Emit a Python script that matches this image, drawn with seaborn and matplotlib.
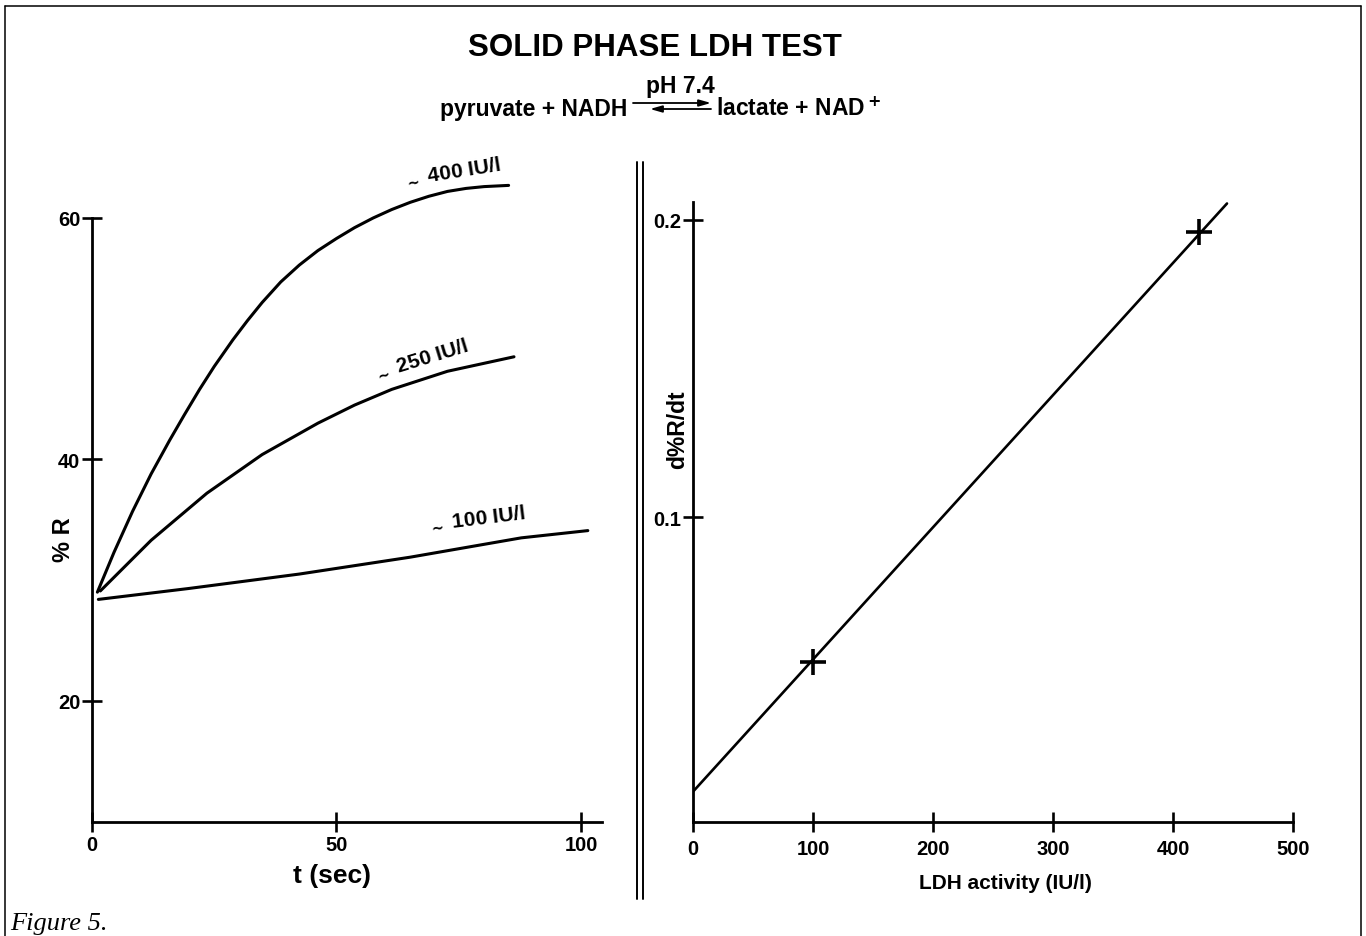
import numpy as np
import pandas as pd
import matplotlib
matplotlib.use("Agg")
import matplotlib.pyplot as plt
from matplotlib.lines import Line2D
from matplotlib.patches import FancyArrowPatch
import seaborn as sns

# ---------------- data ----------------
t_400 = [1.1, 4.5, 8.3, 12.1, 15.9, 18.9, 22.0, 25.0, 28.8, 31.8, 34.8, 38.6, 42.4, 46.2,
         50.0, 53.7, 57.5, 61.3, 65.1, 68.9, 72.7, 76.5, 80.2, 85.2]
r_400 = [29.0, 32.3, 35.7, 38.8, 41.6, 43.7, 45.8, 47.7, 49.9, 51.5, 53.0, 54.7, 56.1, 57.3,
         58.3, 59.2, 60.0, 60.7, 61.3, 61.8, 62.2, 62.45, 62.6, 62.7]
t_250 = [1.7, 12.1, 23.5, 34.8, 46.2, 53.7, 61.3, 72.7, 86.3]
r_250 = [29.1, 33.3, 37.2, 40.4, 43.0, 44.5, 45.8, 47.3, 48.5]
t_100 = [1.3, 19.7, 42.4, 65.1, 87.8, 101.4]
r_100 = [28.4, 29.3, 30.5, 31.9, 33.5, 34.1]
curve_labels = ["400 IU/l", "250 IU/l", "100 IU/l"]

activity = [100, 422]
rate = [0.0515, 0.196]
fit_x = [0, 445]
fit_y = [0.0078, 0.2055]

left_xticks = [0, 50, 100]
left_yticks = [20, 40, 60]
right_xticks = [0, 100, 200, 300, 400, 500]
right_yticks = [0.1, 0.2]
right_yticklabels = ["0.1", "0.2"]

# ---------------- style ----------------
sns.set_theme(style="white")
plt.rcParams['font.family'] = ['Liberation Sans', 'DejaVu Sans']
plt.rcParams['font.weight'] = 'bold'
plt.rcParams['text.color'] = 'black'
plt.rcParams['axes.labelcolor'] = 'black'
plt.rcParams['xtick.color'] = 'black'
plt.rcParams['ytick.color'] = 'black'
plt.rcParams['mathtext.default'] = 'bf'
plt.rcParams['lines.solid_capstyle'] = 'round'
plt.rcParams['lines.solid_joinstyle'] = 'round'

W, H = 1366, 937
fig = plt.figure(figsize=(W / 100, H / 100), dpi=100)
fig.patch.set_facecolor('white')


def fx(px):
    return px / W


def fy(py):
    return 1 - py / H


# ---------------- left panel ----------------
ax1 = fig.add_axes([fx(92), fy(822.5), (602 - 92) / W, (822.5 - 170.7) / H])
df = pd.DataFrame({
    't': t_400 + t_250 + t_100,
    'R': r_400 + r_250 + r_100,
    'level': [curve_labels[0]] * len(t_400) + [curve_labels[1]] * len(t_250) + [curve_labels[2]] * len(t_100),
})
sns.lineplot(data=df, x='t', y='R', hue='level', palette=['black'] * 3, legend=False,
             sort=False, estimator=None, lw=2.2, ax=ax1)
ax1.set_xlim(0, 104.3)
ax1.set_ylim(10, 64)
ax1.set_xticks(left_xticks)
ax1.set_yticks(left_yticks)
ax1.set_xticklabels([str(v) for v in left_xticks])
ax1.set_yticklabels([str(v) for v in left_yticks])
ax1.spines['left'].set_bounds(10, 60)

# ---------------- right panel ----------------
ax2 = fig.add_axes([fx(693), fy(822.7), (1293 - 693) / W, (822.7 - 203) / H])
sns.lineplot(x=fit_x, y=fit_y, color='black', lw=1.9, ax=ax2)
sns.scatterplot(x=activity, y=rate, marker='+', s=330, color='black', linewidth=2.6, ax=ax2, zorder=5)
ax2.set_xlim(0, 500)
ax2.set_ylim(-0.0023, 0.206)
ax2.set_xticks(right_xticks)
ax2.set_yticks(right_yticks)
ax2.set_yticklabels(right_yticklabels)

for ax in (ax1, ax2):
    ax.set_facecolor('white')
    ax.grid(False)
    for s in ('top', 'right'):
        ax.spines[s].set_visible(False)
    for s in ('left', 'bottom'):
        ax.spines[s].set_color('black')
        ax.spines[s].set_linewidth(2.0)
    ax.tick_params(bottom=True, left=True, direction='inout', length=15, width=1.9,
                   color='black', labelsize=14.5, labelcolor='black')
    for lab in ax.get_xticklabels() + ax.get_yticklabels():
        lab.set_fontweight('bold')
    ax.set_xlabel('')
    ax.set_ylabel('')
    ax.patch.set_alpha(0)

ax1.tick_params(axis='x', pad=2)
ax1.tick_params(axis='y', pad=1)
ax2.tick_params(axis='x', pad=5)
ax2.tick_params(axis='y', pad=1)

# curve labels (small, lowered tilde before each)
label_pos = [(73.5, 64.0, 9), (67.0, 48.5, 17), (78.5, 35.3, 7)]
for lab, (tx, ry, rot) in zip(curve_labels, label_pos):
    ax1.text(tx, ry, r'$_{\sim}$ ' + lab, fontsize=15, fontweight='bold', rotation=rot,
             ha='center', va='center', rotation_mode='anchor', clip_on=False)

# axis labels
fig.text(fx(332), fy(876), 't (sec)', fontsize=19, fontweight='bold', ha='center', va='center')
fig.text(fx(63), fy(540), '% R', fontsize=17, fontweight='bold', ha='center', va='center', rotation=90)
fig.text(fx(1005), fy(884), 'LDH activity (IU/l)', fontsize=15, fontweight='bold', ha='center', va='center')
fig.text(fx(678), fy(430), 'd%R/dt', fontsize=16.5, fontweight='bold', ha='center', va='center', rotation=90)

# title and reaction
fig.text(fx(655), fy(48), 'SOLID PHASE LDH TEST', fontsize=22.5, fontweight='bold', ha='center', va='center')
fig.text(fx(680), fy(93), 'pH 7.4', fontsize=16.5, fontweight='bold', ha='center', va='baseline')
fig.text(fx(627), fy(116), 'pyruvate + NADH', fontsize=16.5, fontweight='bold', ha='right', va='baseline')
fig.text(fx(716), fy(116), 'lactate + NAD$^+$', fontsize=16.5, fontweight='bold', ha='left', va='baseline')
fig.add_artist(FancyArrowPatch((fx(633), fy(104)), (fx(711), fy(104)), transform=fig.transFigure,
                               arrowstyle='-|>,head_length=7,head_width=2', color='black', lw=1.3,
                               shrinkA=0, shrinkB=0))
fig.add_artist(FancyArrowPatch((fx(711), fy(110)), (fx(650), fy(110)), transform=fig.transFigure,
                               arrowstyle='-|>,head_length=7,head_width=2', color='black', lw=1.3,
                               shrinkA=0, shrinkB=0))

# separator double line
for xp in (637, 643):
    fig.add_artist(Line2D([fx(xp), fx(xp)], [fy(163), fy(900)], color='black', lw=1.4,
                          transform=fig.transFigure))

# frame lines
fig.add_artist(Line2D([fx(5), fx(1361)], [fy(7), fy(7)], color='black', lw=1.1, transform=fig.transFigure))
fig.add_artist(Line2D([fx(5), fx(5)], [fy(7), fy(937)], color='black', lw=1.1, transform=fig.transFigure))
fig.add_artist(Line2D([fx(1361), fx(1361)], [fy(7), fy(937)], color='black', lw=1.1, transform=fig.transFigure))

fig.text(fx(10), fy(924), 'Figure 5.', fontsize=19, fontstyle='italic', fontweight='normal',
         family=['Liberation Serif', 'DejaVu Serif'], ha='left', va='center')

fig.savefig('out.png', dpi=100, facecolor='white')
